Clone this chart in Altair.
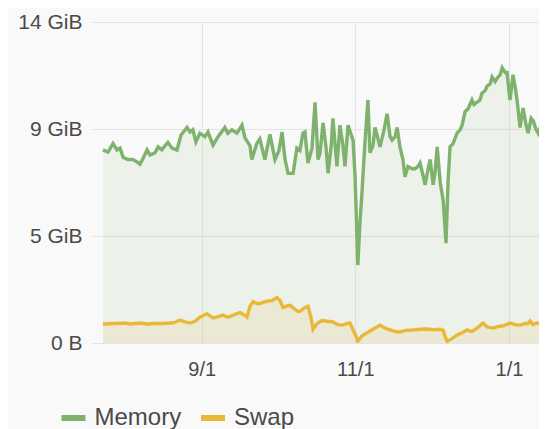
import altair as alt
import pandas as pd

# days relative to 2017-09-01, values in GiB
mem_days = [-39.2, -37.2, -35.2, -33.6, -32.4, -31.2, -29.3, -27.3, -25.7, -24.5, -23.3, -21.7, -20.5, -18.5, -17.3, -15.8, -14.6, -13.4, -11.8, -9.8,
            -8.2, -5.8, -4.6, -3.5, -2.3, -0.7, 1.3, 2.5, 4.5, 6.5, 9.2, 10.4, 12.0, 14.0, 16.0, 17.2, 19.2, 19.9, 21.9,
            23.1, 25.1, 27.1, 29.1, 30.7, 31.9, 33.1, 34.3,
            36.3, 37.8, 39.0, 40.2, 41.0, 42.2, 43.8, 45.0, 46.2, 47.0, 48.2, 49.4, 50.2, 51.4, 52.1, 53.7, 54.9, 56.1, 56.9, 58.1,
            59.3, 60.1, 60.9, 62.0, 62.8, 63.6, 64.8, 66.0, 66.8, 68.0, 68.8, 70.0, 70.8, 72.4, 73.6, 74.8, 75.6, 76.8, 77.6, 78.7,
            79.9, 80.7, 81.9, 83.5, 84.7, 85.9, 86.7, 87.9, 88.7, 89.9, 90.7, 91.9, 92.7, 93.5, 94.7, 95.9, 97.0, 97.8, 98.6, 99.8,
            101.4, 102.6, 103.4, 104.6, 105.7, 107.3, 108.1, 109.3, 110.5, 111.3, 112.5, 113.3, 114.5, 115.3, 116.5, 117.3, 118.5, 119.3, 120.5, 121.2,
            122.4, 123.6, 124.4, 125.2, 126.4, 127.6, 128.8, 129.6, 130.8, 131.6, 132.8, 133.6, 134.4, 135.2, 136.3, 137.1]
mem_gib = [8.42, 8.33, 8.7, 8.42, 8.5, 8.1, 8.0, 8.0, 7.9, 7.8, 8.05, 8.42, 8.2, 8.3, 8.55, 8.42, 8.6, 8.75, 8.5, 8.42,
           9.07, 9.4, 9.2, 9.3, 8.77, 9.15, 9.0, 9.2, 8.63, 9.0, 9.4, 9.15, 9.3, 9.15, 9.5, 8.95, 8.6, 8.0, 8.7,
           8.9, 8.0, 9.1, 8.0, 8.4, 9.2, 8.0, 7.4,
           7.4, 8.5, 8.4, 9.15, 9.2, 7.85, 8.5, 10.5, 8.0, 8.3, 9.6, 8.5, 7.4, 8.6, 9.8, 7.7, 9.5, 8.6, 7.7, 9.5,
           9.1, 8.85, 7.25, 3.4, 5.2, 6.5, 8.7, 10.6, 8.3, 8.6, 9.4, 8.9, 8.55, 9.3, 10.0, 9.0, 8.85, 9.0, 9.4, 8.55,
           8.0, 7.25, 7.7, 7.6, 7.6, 7.7, 7.85, 7.3, 6.9, 7.6, 8.0, 6.9, 7.5, 8.55, 7.0, 6.2, 4.35, 7.0, 8.55, 8.7,
           9.15, 9.3, 9.5, 10.1, 10.2, 10.6, 10.4, 10.5, 10.6, 10.9, 11.0, 11.2, 11.3, 11.6, 11.4, 11.55, 11.7, 12.0, 11.8, 11.8,
           10.6, 11.7, 11.2, 10.6, 9.4, 10.25, 9.5, 9.15, 9.8, 9.7, 9.3, 9.15, 9.4, 9.6, 9.0, 8.4]

swap_days = [-39.2, -34.4, -30.4, -28.5, -24.5, -21.7, -18.5, -15.4, -12.6, -10.6, -8.6, -6.6, -4.6, -2.7, -0.7, 2.1, 4.5, 6.5, 8.5, 10.0,
             11.2, 13.2, 15.2, 17.2, 18.0, 19.2, 20.4, 21.9, 23.1, 25.1, 26.3, 27.9, 29.9, 31.1, 32.3, 33.9, 35.1, 36.3, 38.3, 39.0,
             41.0, 42.2, 43.4, 44.2, 45.8, 47.8, 49.8, 52.1, 54.1, 56.1, 57.7, 58.9, 60.1, 61.3, 62.0, 63.6, 65.6, 68.0, 70.8, 72.8,
             74.8, 76.8, 78.7, 81.1, 83.9, 86.7, 89.5, 91.9, 94.7, 95.9, 96.7, 97.5, 99.5, 101.4, 103.4, 105.4, 107.3, 109.3, 110.5, 111.7,
             113.3, 115.8, 117.7, 119.7, 122.4, 124.4, 126.4, 128.4, 129.6, 130.4, 131.6, 133.0, 135.2, 137.1]
swap_gib = [0.83, 0.85, 0.87, 0.83, 0.87, 0.83, 0.85, 0.85, 0.87, 0.9, 1.0, 0.92, 0.87, 0.95, 1.13, 1.28, 1.09, 1.15, 1.22, 1.13,
            1.15, 1.25, 1.33, 1.2, 1.13, 1.6, 1.8, 1.72, 1.72, 1.8, 1.83, 1.85, 1.98, 1.85, 1.55, 1.62, 1.64, 1.53, 1.37, 1.38,
            1.55, 1.6, 1.1, 0.6, 0.85, 0.98, 0.95, 0.92, 0.8, 0.78, 0.85, 0.87, 0.57, 0.3, 0.08, 0.3, 0.44, 0.6, 0.78, 0.65,
            0.57, 0.5, 0.48, 0.55, 0.57, 0.6, 0.61, 0.58, 0.6, 0.55, 0.26, 0.07, 0.2, 0.35, 0.45, 0.57, 0.5, 0.65, 0.75, 0.87,
            0.7, 0.65, 0.72, 0.75, 0.87, 0.8, 0.78, 0.85, 0.85, 0.96, 0.8, 0.87, 0.85, 0.74]

series = ["Memory", "Swap"]
colors = ["#7eb26d", "#eab839"]
y_ticks = [0, 14 / 3, 28 / 3, 14]

base = pd.Timestamp("2017-09-01")
mem = pd.DataFrame({"t": [base + pd.Timedelta(days=d) for d in mem_days], "v": mem_gib, "s": "Memory"})
swp = pd.DataFrame({"t": [base + pd.Timedelta(days=d) for d in swap_days], "v": swap_gib, "s": "Swap"})
df = pd.concat([mem, swp], ignore_index=True)

x_scale = alt.Scale(domain=[alt.DateTime(year=2017, month=7, date=19, hours=11),
                            alt.DateTime(year=2018, month=1, date=12, hours=22)])
y_scale = alt.Scale(domain=[0, 14], nice=False)

x_axis = alt.Axis(title=None, values=[alt.DateTime(year=2017, month=9, date=1),
                                      alt.DateTime(year=2017, month=11, date=1),
                                      alt.DateTime(year=2018, month=1, date=1)],
                  format="%-m/%-d", labelFontSize=20, labelColor="#4a4a4a", labelFont="Liberation Sans",
                  grid=True, gridColor="#e4e4e4", domain=False, ticks=False, labelPadding=16)
y_axis = alt.Axis(title=None, values=y_ticks,
                  labelExpr="datum.value == 0 ? '0 B' : format(datum.value, '.0f') + ' GiB'",
                  labelFontSize=21, labelColor="#4a4a4a", labelFont="Liberation Sans",
                  grid=True, gridColor="#e4e4e4", domain=False, ticks=False, labelPadding=10)

x = alt.X("t:T", scale=x_scale, axis=x_axis)
y = alt.Y("v:Q", scale=y_scale, axis=y_axis)

area_mem = alt.Chart(df).transform_filter("datum.s == 'Memory'").mark_area(
    color=colors[0], opacity=0.1, clip=True).encode(x=x, y=y)
area_swp = alt.Chart(df).transform_filter("datum.s == 'Swap'").mark_area(
    color=colors[1], opacity=0.12, clip=True).encode(x=x, y=y)
lines = alt.Chart(df).mark_line(strokeWidth=3.4, clip=True).encode(
    x=x, y=y,
    color=alt.Color("s:N", scale=alt.Scale(domain=series, range=colors),
                    legend=alt.Legend(title=None, orient="none", direction="horizontal",
                                      legendX=-33.5, legendY=381, symbolType="stroke",
                                      symbolSize=576, symbolStrokeWidth=6,
                                      labelFontSize=24, labelFont="Liberation Sans",
                                      labelColor="#4a4a4a", labelOffset=6, columnPadding=7.5)),
    detail="s:N")

chart = alt.layer(area_mem, area_swp, lines).properties(
    width=447, height=321,
    autosize=alt.AutoSizeParams(type="none"),
    padding={"left": 84, "top": 14, "right": 0, "bottom": 86},
    background="#f9f9f9",
).configure_view(stroke=None)

chart.save("out.html", embed_options={"renderer": "svg", "actions": False})
